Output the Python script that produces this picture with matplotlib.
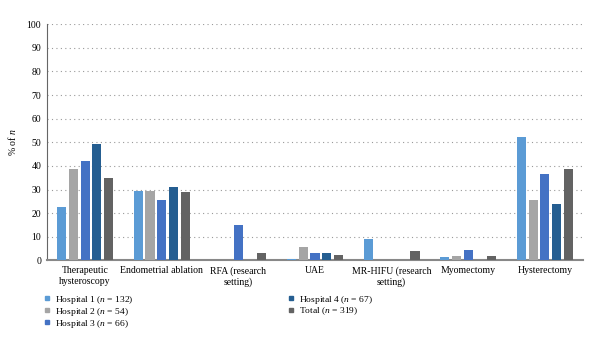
import numpy as np
import matplotlib.pyplot as plt
from matplotlib.lines import Line2D

plt.rcParams["font.family"] = ["Liberation Serif", "DejaVu Serif"]
plt.rcParams["mathtext.fontset"] = "custom"
plt.rcParams["mathtext.it"] = "Liberation Serif:italic"
plt.rcParams["mathtext.rm"] = "Liberation Serif"

categories = ["Therapeutic\nhysteroscopy", "Endometrial ablation", "RFA (research\nsetting)",
              "UAE", "MR-HIFU (research\nsetting)", "Myomectomy", "Hysterectomy"]
series_labels = ["Hospital 1 ($n$ = 132)", "Hospital 2 ($n$ = 54)", "Hospital 3 ($n$ = 66)",
                 "Hospital 4 ($n$ = 67)", "Total ($n$ = 319)"]
hospital_1 = [22.6, 29.4, 0.0, 0.8, 9.1, 1.5, 52.2]
hospital_2 = [38.8, 29.4, 0.0, 5.6, 0.0, 1.9, 25.8]
hospital_3 = [42.3, 25.8, 15.2, 3.0, 0.0, 4.5, 36.4]
hospital_4 = [49.3, 31.3, 0.0, 3.0, 0.0, 0.0, 23.9]
total = [35.0, 29.1, 3.1, 2.5, 3.8, 1.9, 38.6]
y_ticks = list(range(0, 101, 10))

colors = ["#5B9BD5", "#A5A5A5", "#4472C4", "#255E91", "#636363"]
series = [hospital_1, hospital_2, hospital_3, hospital_4, total]

fig = plt.figure(figsize=(6.0, 3.45), dpi=100)
ax = fig.add_axes([0.078, 0.245, 0.894, 0.685])

x = np.arange(len(categories))
step = 0.153
width = 0.12
for i, (vals, col) in enumerate(zip(series, colors)):
    ax.bar(x + (i - 2) * step, vals, width=width, color=col, zorder=3)

ax.set_xlim(-0.5, len(categories) - 0.5)
ax.set_ylim(0, 100)
ax.set_yticks(y_ticks)
ax.tick_params(axis="y", labelsize=7, length=0, pad=4)
ax.set_xticks(x)
ax.set_xticklabels(categories, fontsize=7, linespacing=1.3)
ax.tick_params(axis="x", length=0, pad=4)
ax.yaxis.grid(True, linestyle=(0, (1, 3)), color="#9a9a9a", linewidth=0.8, zorder=0)
ax.set_ylabel("% of $n$", fontsize=7, labelpad=6)

for s in ["top", "right"]:
    ax.spines[s].set_visible(False)
ax.spines["left"].set_color("#666666")
ax.spines["left"].set_linewidth(0.8)
ax.spines["bottom"].set_color("#888888")
ax.spines["bottom"].set_linewidth(1.5)

handles = [Line2D([], [], marker="s", linestyle="none", markersize=3.5,
                  markerfacecolor=c, markeredgecolor=c) for c in colors]
fig.legend(handles, series_labels, loc="upper left", bbox_to_anchor=(0.067, 0.16),
           ncol=2, frameon=False, fontsize=6.8, handlelength=0.6, handletextpad=0.6,
           columnspacing=16.3, labelspacing=0.0, borderaxespad=0)

fig.savefig("out.png", dpi=100)
